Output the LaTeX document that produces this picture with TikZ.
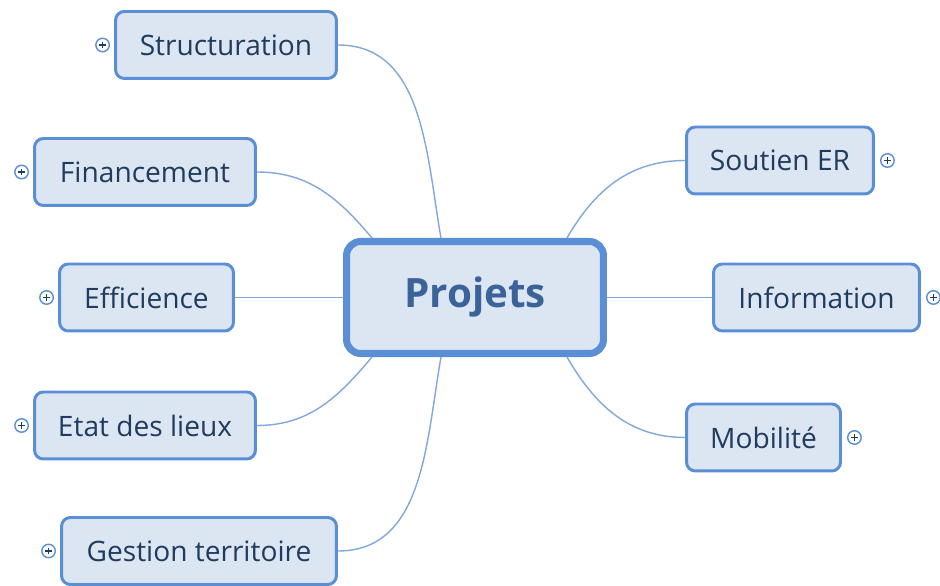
\documentclass[tikz,border=0pt]{standalone}
\usepackage{fontspec}
\setmainfont{Open Sans}
\usetikzlibrary{positioning,calc}
\definecolor{boxline}{HTML}{5A8FD6}
\definecolor{boxfill}{HTML}{DCE6F2}
\definecolor{boxtext}{HTML}{1F3B5E}
\definecolor{hubtext}{HTML}{3B6399}
\definecolor{linkcol}{HTML}{80A8DD}
\tikzset{
  leaf/.style={rectangle, rounded corners=5pt, draw=boxline, line width=1.7pt,
    fill=boxfill, text=boxtext, minimum height=1.34cm, inner sep=0pt,
    font=\fontsize{16}{19}\selectfont},
  hub/.style={rectangle, rounded corners=8pt, draw=boxline, line width=4pt,
    fill=boxfill, text=hubtext, minimum width=5.14cm, minimum height=2.24cm,
    font=\fontsize{23}{27}\selectfont\bfseries},
  plus/.style={circle, draw=boxline, line width=0.8pt, fill=white, minimum size=0.27cm,
    inner sep=0pt, path picture={
      \draw[boxtext, line width=0.7pt] (path picture bounding box.center) +(-1.8pt,0) -- +(1.8pt,0)
        (path picture bounding box.center) +(0,-1.8pt) -- +(0,1.8pt);}},
  link/.style={draw=linkcol, line width=0.8pt}
}
\begin{document}
\begin{tikzpicture}[x=0.02cm, y=0.02cm]
  \useasboundingbox (0,0) rectangle (940,585);
  % central topic
  \node[hub] (proj) at (475,287.5) {Projets};
  % left branches
  \node[leaf, minimum width=4.42cm] (struct) at (226,540) {Structuration};
  \node[leaf, minimum width=4.42cm] (finance) at (145,413) {Financement};
  \node[leaf, minimum width=3.48cm] (effic) at (146.5,287.5) {Efficience};
  \node[leaf, minimum width=4.42cm] (etat) at (145,159.5) {Etat des lieux};
  \node[leaf, minimum width=5.50cm] (gestion) at (199,34) {Gestion territoire};
  % right branches
  \node[leaf, minimum width=3.74cm] (soutien) at (780,424.5) {Soutien ER};
  \node[leaf, minimum width=4.12cm] (info) at (816.5,287.5) {Information};
  \node[leaf, minimum width=3.08cm] (mobil) at (763.5,147.5) {Mobilité};
  % expand markers
  \foreach \n in {struct,finance,effic,etat,gestion}
    \node[plus, left=0.08cm of \n] (p\n) {};
  \foreach \n in {soutien,info,mobil}
    \node[plus, right=0.1cm of \n] (p\n) {};
  % connectors
  \draw[link] (struct.east) to[out=0, in=100] ($(proj.north)+(-34,0)$);
  \draw[link] (finance.east) to[out=0, in=130] ($(proj.north)+(-103,0)$);
  \draw[link] (effic.east) -- (proj.west);
  \draw[link] (etat.east) to[out=0, in=-130] ($(proj.south)+(-103,0)$);
  \draw[link] (gestion.east) to[out=0, in=-100] ($(proj.south)+(-34,0)$);
  \draw[link] (soutien.west) to[out=180, in=60] ($(proj.north)+(92,0)$);
  \draw[link] (info.west) -- (proj.east);
  \draw[link] (mobil.west) to[out=180, in=-60] ($(proj.south)+(92,0)$);
\end{tikzpicture}
\end{document}
